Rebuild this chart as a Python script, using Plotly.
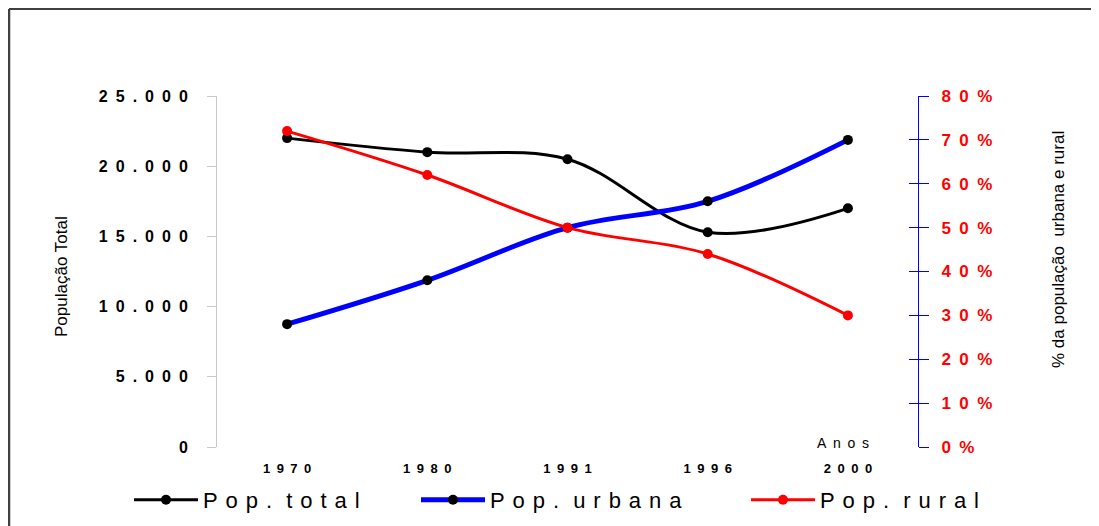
import plotly.graph_objects as go

years = ["1970", "1980", "1991", "1996", "2000"]
pop_total = [22000, 21000, 20500, 15300, 17000]
pct_urbana = [0.28, 0.38, 0.50, 0.56, 0.70]
pct_rural = [0.72, 0.62, 0.50, 0.44, 0.30]

left_ticks = [0, 5000, 10000, 15000, 20000, 25000]
left_labels = ["0", "5.000", "10.000", "15.000", "20.000", "25.000"]
right_ticks = [0, 0.1, 0.2, 0.3, 0.4, 0.5, 0.6, 0.7, 0.8]
right_labels = ["0%", "10%", "20%", "30%", "40%", "50%", "60%", "70%", "80%"]

SEP = "\u2002"
NB = "\u00a0"
HAIR = "\u200a"
SANS = "Liberation Sans, Arial"

# figure is drawn at (8, 8) in the page; plot area in figure pixels
W, H = 1091, 518
L, R, T, B = 209, 910, 88, 439
PW, PH = R - L, B - T


def px(x):
    return (x - L) / PW


def py(y):
    return (B - y) / PH


def spaced(s, sep=SEP, word=None):
    word = word if word is not None else sep * 2
    return word.join(sep.join(list(w)) for w in s.split(" "))


ITEMW = 64
leg_font = dict(family=SANS, size=22, color="black")
LSEP = NB + HAIR
LWORD = NB + NB + HAIR


def legend_at(text_x):
    return dict(orientation="h", xref="paper", yref="paper",
                x=px(text_x - ITEMW - 10), xanchor="left", y=py(492), yanchor="middle",
                font=leg_font, itemwidth=ITEMW, bgcolor="rgba(0,0,0,0)")


fig = go.Figure()
fig.add_trace(go.Scatter(
    x=years, y=pop_total, name=spaced("Pop. total", LSEP, LWORD), yaxis="y", legend="legend",
    mode="lines+markers", line=dict(color="black", width=3, shape="spline", smoothing=1),
    marker=dict(color="black", size=10)))
fig.add_trace(go.Scatter(
    x=years, y=pct_urbana, name=spaced("Pop. urbana", LSEP, LWORD), yaxis="y2", legend="legend2",
    mode="lines+markers", line=dict(color="#0000ff", width=5, shape="spline", smoothing=1),
    marker=dict(color="black", size=10)))
fig.add_trace(go.Scatter(
    x=years, y=pct_rural, name=spaced("Pop. rural", LSEP, LWORD), yaxis="y2", legend="legend3",
    mode="lines+markers", line=dict(color="#ff0000", width=3, shape="spline", smoothing=1),
    marker=dict(color="#ff0000", size=10)))
fig.add_trace(go.Scatter(x=[years[0]], y=[None], yaxis="y3", showlegend=False,
                         hoverinfo="skip", mode="lines"))

fig.update_layout(
    width=W, height=H,
    margin=dict(l=L, r=W - R, t=T, b=H - B, autoexpand=False),
    paper_bgcolor="white", plot_bgcolor="white",
    showlegend=True,
    legend=legend_at(195), legend2=legend_at(482), legend3=legend_at(812),
    xaxis=dict(type="category", range=[-0.5, 4.5], showline=False, showgrid=False,
               zeroline=False, ticks="", tickvals=years,
               ticktext=[spaced(y) for y in years],
               tickfont=dict(family=SANS, size=13, color="black", weight="bold"),
               ticklabelstandoff=12),
    yaxis=dict(range=[0, 25000], tickvals=left_ticks,
               ticktext=[spaced(t) for t in left_labels],
               tickfont=dict(family=SANS, size=16, color="black", weight="bold"),
               showline=True, linecolor="#c8c8c8", linewidth=1, ticks="outside",
               tickcolor="#c8c8c8", ticklen=9, showgrid=False, zeroline=False,
               ticklabelstandoff=16),
    yaxis2=dict(range=[0, 0.8], overlaying="y", side="right", tickvals=right_ticks,
                ticktext=[spaced(t) for t in right_labels],
                tickfont=dict(family=SANS, size=17, color="#ff0000", weight="bold"),
                showline=True, linecolor="#0000ff", linewidth=1, ticks="outside",
                tickcolor="#0000ff", ticklen=10, showgrid=False, zeroline=False,
                ticklabelstandoff=9),
    yaxis3=dict(range=[0, 0.8], overlaying="y", side="right", tickvals=right_ticks,
                showticklabels=False, showline=False, ticks="inside",
                tickcolor="#0000ff", ticklen=9, showgrid=False, zeroline=False),
)

fig.add_annotation(text="População Total", xref="paper", yref="paper",
                   x=px(53), y=py(269), textangle=-90,
                   showarrow=False, font=dict(family=SANS, size=17, color="black"),
                   xanchor="center", yanchor="middle")
fig.add_annotation(text="% da população\u00a0\u00a0urbana e rural", xref="paper", yref="paper",
                   x=px(1051), y=py(242), textangle=-90,
                   showarrow=False, font=dict(family=SANS, size=17, color="black"),
                   xanchor="center", yanchor="middle")
fig.add_annotation(text=spaced("Anos", NB + "\u2009"), xref="paper", yref="paper",
                   x=px(835), y=py(435),
                   showarrow=False, font=dict(family=SANS, size=14, color="black"),
                   xanchor="center", yanchor="middle")

# outer frame (extends past the right and bottom edges)
fig.add_shape(type="line", xref="paper", yref="paper",
              x0=px(1), x1=px(1200), y0=py(1), y1=py(1),
              line=dict(color="black", width=1.5))
fig.add_shape(type="line", xref="paper", yref="paper",
              x0=px(1), x1=px(1), y0=py(1), y1=py(600),
              line=dict(color="#404040", width=2.5))

fig.write_html("out.html")
